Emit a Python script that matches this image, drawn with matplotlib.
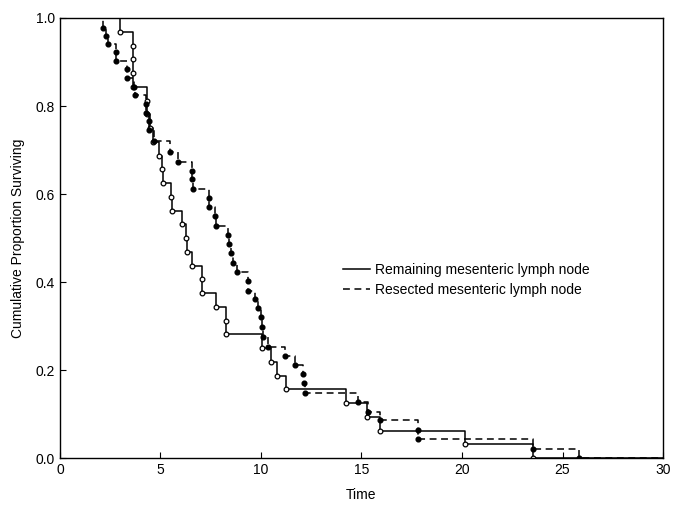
import numpy as np
import matplotlib
matplotlib.use("Agg")
import matplotlib.pyplot as plt

plt.rcParams['font.family'] = ['Liberation Sans', 'DejaVu Sans']

# step points: (time, survival after the drop)
remain_time = [3.0, 3.62, 3.62, 3.62, 3.62, 4.35, 4.35, 4.5, 4.64, 4.93, 5.06, 5.1,
               5.5, 5.59, 6.05, 6.25, 6.3, 6.58, 7.08, 7.08, 7.75, 8.24, 8.24,
               10.05, 10.48, 10.81, 11.23, 14.23, 15.26, 15.9, 20.15, 23.55]
remain_surv = [0.969, 0.9375, 0.906, 0.875, 0.844, 0.8125, 0.781, 0.75, 0.719, 0.6875,
               0.656, 0.625, 0.594, 0.5625, 0.531, 0.5, 0.469, 0.4375, 0.406, 0.375,
               0.344, 0.3125, 0.281, 0.25, 0.219, 0.1875, 0.156, 0.125, 0.094, 0.0625,
               0.031, 0.0]

resect_time = [2.14, 2.27, 2.4, 2.77, 2.77, 3.32, 3.32, 3.7, 3.75, 4.3, 4.3, 4.45, 4.45,
               4.7, 5.45, 5.85, 6.55, 6.55, 6.6, 7.4, 7.42, 7.72, 7.77, 8.35, 8.4, 8.5,
               8.6, 8.83, 9.35, 9.35, 9.68, 9.83, 10.0, 10.05, 10.1, 10.35, 11.2, 11.7,
               12.1, 12.15, 12.2, 14.84, 15.3, 15.9, 17.83, 17.83, 23.55, 25.8]
resect_surv = [0.977, 0.958, 0.94, 0.922, 0.903, 0.884, 0.863, 0.844, 0.824, 0.805, 0.785,
               0.765, 0.745, 0.72, 0.696, 0.673, 0.652, 0.633, 0.611, 0.59, 0.571, 0.55,
               0.527, 0.507, 0.486, 0.465, 0.444, 0.423, 0.403, 0.38, 0.361, 0.34, 0.32,
               0.298, 0.276, 0.253, 0.232, 0.211, 0.191, 0.17, 0.148, 0.128, 0.105,
               0.086, 0.064, 0.043, 0.0205, 0.0]

x_ticks = [0, 5, 10, 15, 20, 25, 30]
y_ticks = [0.0, 0.2, 0.4, 0.6, 0.8, 1.0]

fig = plt.figure(figsize=(6.74, 5.07), dpi=100)
ax = fig.add_axes([0.089, 0.0966, 0.8947, 0.8679])

# solid curve, open circles
t = [0] + remain_time + [30]
s = [1.0] + remain_surv + [remain_surv[-1]]
ax.step(t, s, where='post', color='black', lw=1.1, label='Remaining mesenteric lymph node')
ax.plot(remain_time, remain_surv, linestyle='None', marker='o', ms=3.4,
        mfc='white', mec='black', mew=0.9)

# dashed curve, filled dots
t = [0] + resect_time + [30]
s = [1.0] + resect_surv + [resect_surv[-1]]
ax.step(t, s, where='post', color='black', lw=1.1, dashes=(4.5, 3),
        label='Resected mesenteric lymph node')
ax.plot(resect_time, resect_surv, linestyle='None', marker='o', ms=3.4,
        mfc='black', mec='black')

ax.set_xlim(0, 30)
ax.set_ylim(0, 1.0)
ax.set_xticks(x_ticks)
ax.set_yticks(y_ticks)
ax.set_yticklabels([f"{v:.1f}" for v in y_ticks])
ax.tick_params(direction='in', length=4, labelsize=10, top=False, right=False)
for sp in ax.spines.values():
    sp.set_linewidth(1.0)

ax.set_xlabel("Time", fontsize=10, labelpad=8)
ax.set_ylabel("Cumulative Proportion Surviving", fontsize=10, labelpad=8)

ax.legend(loc='upper left', bbox_to_anchor=(0.458, 0.459), frameon=False,
          fontsize=10, borderpad=0, handlelength=1.9, handletextpad=0.4,
          labelspacing=0.4)

fig.savefig("out.png", dpi=100)
